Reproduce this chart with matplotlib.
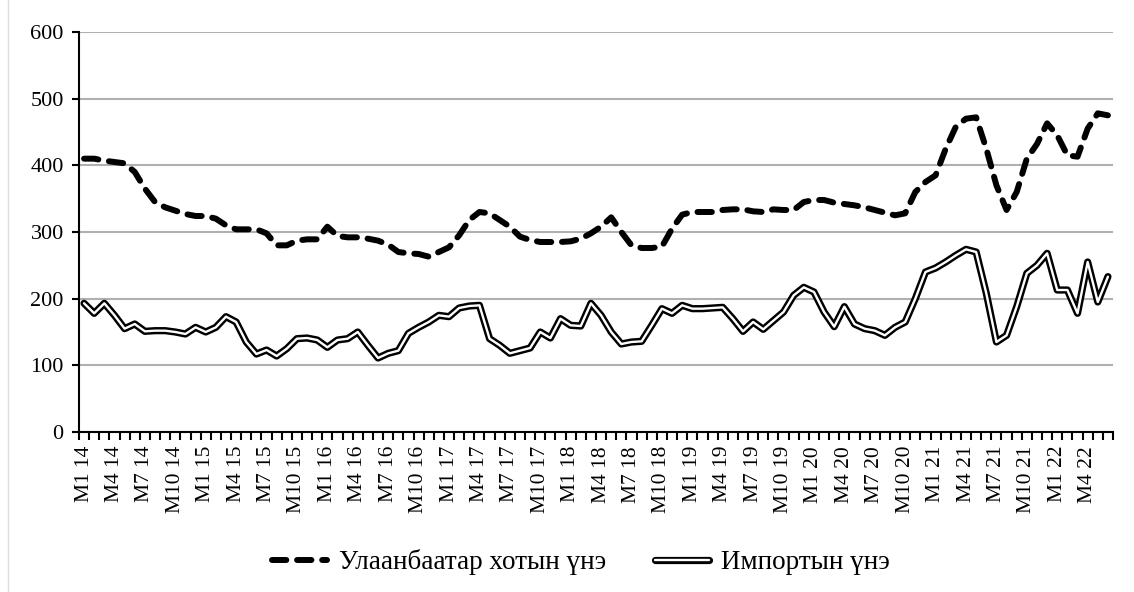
import numpy as np
import matplotlib.pyplot as plt
from matplotlib.lines import Line2D

plt.rcParams['font.family'] = ['Liberation Serif', 'DejaVu Serif']

# months Jan 2014 .. Jun 2022
months = ["M%d %02d" % (m, y) for y in range(14, 23) for m in range(1, 13)][:102]

ulaanbaatar = [410, 410, 407, 405, 403, 390, 365, 345, 337, 332,
               327, 324, 324, 320, 310, 304, 304, 304, 298, 280,
               280, 287, 289, 289, 308, 294, 292, 292, 290, 287,
               281, 270, 268, 267, 263, 270, 277, 295, 318, 330,
               328, 318, 308, 293, 288, 285, 285, 285, 286, 290,
               298, 308, 322, 300, 280, 276, 276, 278, 305, 326,
               330, 330, 330, 333, 334, 334, 331, 330, 334, 333,
               333, 345, 348, 348, 344, 342, 340, 337, 333, 329,
               325, 328, 360, 375, 385, 425, 458, 470, 472, 425,
               370, 333, 360, 410, 432, 463, 445, 415, 413, 455,
               478, 475]

imports = [193, 178, 193, 175, 155, 162, 151, 152, 152, 150,
           147, 157, 150, 157, 173, 165, 135, 117, 123, 114,
           125, 140, 141, 138, 127, 138, 140, 150, 130, 111,
           118, 122, 148, 157, 165, 175, 173, 186, 189, 190,
           140, 130, 118, 122, 126, 150, 141, 170, 160, 159,
           193, 175, 150, 132, 135, 136, 160, 185, 178, 190,
           185, 185, 186, 187, 170, 151, 165, 154, 167, 180,
           205, 217, 210, 180, 158, 188, 162, 155, 152, 145,
           157, 165, 200, 240, 246, 255, 265, 274, 270, 208,
           135, 145, 188, 238, 250, 268, 213, 213, 178, 255,
           195, 233]

labels = ["Улаанбаатар хотын үнэ", "Импортын үнэ"]

fig = plt.figure(figsize=(11.34, 5.92), dpi=100)
ax = fig.add_axes([79/1134, 1-432/592, (1113-79)/1134, 400/592])

x = np.arange(len(months))

l1, = ax.plot(x, ulaanbaatar, color="black", lw=4.3, dashes=(2.4, 1.8),
              dash_capstyle="round", solid_joinstyle="round")
l2a, = ax.plot(x, imports, color="black", lw=5.2, solid_joinstyle="round",
               solid_capstyle="round")
l2b, = ax.plot(x, imports, color="white", lw=1.7, solid_joinstyle="round",
               solid_capstyle="round")

ax.set_xlim(-0.5, len(months) - 0.5)
ax.set_ylim(0, 600)
ax.set_yticks(range(0, 601, 100))
ax.yaxis.grid(True, color="#b0b0b0", lw=1.5)
ax.set_axisbelow(True)

ax.set_xticks(x[::3])
ax.set_xticklabels(months[::3], rotation=90, fontsize=15.5)
ax.set_xticks(np.arange(-0.5, len(months)), minor=True)
ax.tick_params(axis="x", which="major", length=0, pad=10)
ax.tick_params(axis="x", which="minor", length=6, width=1.5, color="black")
ax.tick_params(axis="y", length=5, width=1.5, labelsize=16, pad=6)

for s in ["top", "right"]:
    ax.spines[s].set_visible(False)
for s in ["left", "bottom"]:
    ax.spines[s].set_linewidth(1.5)

fig.legend([l1, (l2a, l2b)], labels, loc="center", bbox_to_anchor=(581/1134, 1-562/592),
           ncol=2, frameon=False, fontsize=19.5, handlelength=2.0, columnspacing=1.8,
           handletextpad=0.45)

fig.add_artist(Line2D([8/1134, 8/1134], [0, 1], transform=fig.transFigure,
                      color="#dddddd", lw=1))

fig.savefig("out.png", dpi=100)
